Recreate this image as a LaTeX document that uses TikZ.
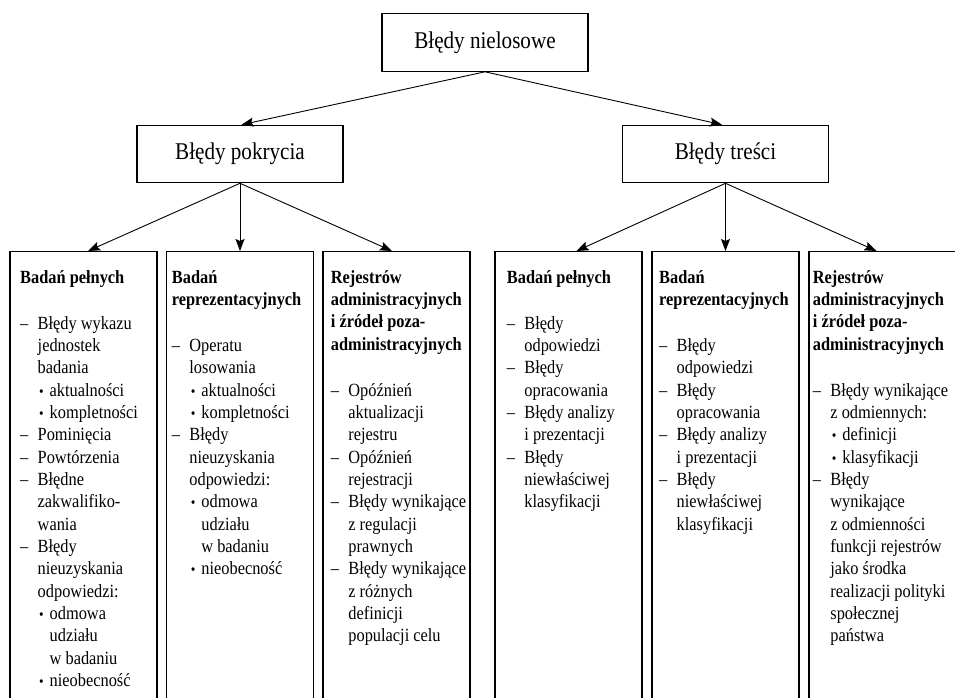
\documentclass[tikz,border=0pt]{standalone}
\usepackage{fontspec}
\setmainfont{Liberation Serif}[FakeStretch=0.88]
\usetikzlibrary{arrows.meta}

% column contents: bold heading, dash items and bullet sub-items
\newcommand\colhead[1]{{\bfseries #1}\par\vspace{23.67pt}}
\newcommand\dashitem[1]{\par\noindent\hangindent=17.5pt\hangafter=1\makebox[17.5pt][l]{–}#1\par}
\newcommand\bulitem[1]{\par\noindent\hangindent=29.5pt\hangafter=1\hspace*{19pt}\makebox[10.5pt][l]{\scalebox{0.8}{•}}#1\par}
\newcommand\coltext[1]{\begin{minipage}[t]{200pt}\fontsize{18.6pt}{22.33pt}\selectfont\parindent=0pt\parskip=0pt #1\end{minipage}}

\begin{document}
\begin{tikzpicture}[x=1pt,y=-1pt,
  box/.style={draw, line width=1.1pt, minimum width=206pt, minimum height=57.5pt, inner sep=0pt,
              font=\fontsize{24pt}{28pt}\selectfont},
  col/.style={draw, line width=1.1pt, minimum width=147pt, minimum height=500pt, anchor=north, inner sep=0pt},
  coltxt/.style={anchor=base west, inner sep=0pt},
  arr/.style={line width=0.9pt, -{Stealth[length=12pt,width=9pt,inset=2pt]}}]
\path[use as bounding box, clip] (0,0) rectangle (955,698);

% top levels
\node[box] (root) at (485,42.5) {Błędy nielosowe};
\node[box] (cov)  at (240,154) {Błędy pokrycia};
\node[box] (cont) at (725.5,154) {Błędy treści};

% column frames (open at the bottom)
\node[col] (c1) at (83.5,251) {};
\node[col] (c2) at (240,251) {};
\node[col] (c3) at (396.5,251) {};
\node[col] (c4) at (568.5,251) {};
\node[col] (c5) at (725.5,251) {};
\node[col] (c6) at (882.5,251) {};

% column texts
\node[coltxt] (t1) at (20,283.3) {\coltext{%
  \colhead{Badań pełnych}
  \dashitem{Błędy wykazu\newline jednostek\newline badania}
  \bulitem{aktualności}
  \bulitem{kompletności}
  \dashitem{Pominięcia}
  \dashitem{Powtórzenia}
  \dashitem{Błędne\newline zakwalifiko-\newline wania}
  \dashitem{Błędy\newline nieuzyskania\newline odpowiedzi:}
  \bulitem{odmowa\newline udziału\newline w badaniu}
  \bulitem{nieobecność}}};

\node[coltxt] (t2) at (171.7,283.3) {\coltext{%
  \colhead{Badań\newline reprezentacyjnych}
  \dashitem{Operatu\newline losowania}
  \bulitem{aktualności}
  \bulitem{kompletności}
  \dashitem{Błędy\newline nieuzyskania\newline odpowiedzi:}
  \bulitem{odmowa\newline udziału\newline w badaniu}
  \bulitem{nieobecność}}};

\node[coltxt] (t3) at (330.7,283.3) {\coltext{%
  \colhead{Rejestrów\newline administracyjnych\newline i źródeł poza-\newline administracyjnych}
  \dashitem{Opóźnień\newline aktualizacji\newline rejestru}
  \dashitem{Opóźnień\newline rejestracji}
  \dashitem{Błędy wynikające\newline z regulacji\newline prawnych}
  \dashitem{Błędy wynikające\newline z różnych\newline definicji\newline populacji celu}}};

\node[coltxt] (t4) at (506.7,283.3) {\coltext{%
  \colhead{Badań pełnych}
  \dashitem{Błędy\newline odpowiedzi}
  \dashitem{Błędy\newline opracowania}
  \dashitem{Błędy analizy\newline i prezentacji}
  \dashitem{Błędy\newline niewłaściwej\newline klasyfikacji}}};

\node[coltxt] (t5) at (659,283.3) {\coltext{%
  \colhead{Badań\newline reprezentacyjnych}
  \dashitem{Błędy\newline odpowiedzi}
  \dashitem{Błędy\newline opracowania}
  \dashitem{Błędy analizy\newline i prezentacji}
  \dashitem{Błędy\newline niewłaściwej\newline klasyfikacji}}};

\node[coltxt] (t6) at (812.7,283.3) {\coltext{%
  \colhead{Rejestrów\newline administracyjnych\newline i źródeł poza-\newline administracyjnych}
  \dashitem{Błędy wynikające\newline z odmiennych:}
  \bulitem{definicji}
  \bulitem{klasyfikacji}
  \dashitem{Błędy\newline wynikające\newline z odmienności\newline funkcji rejestrów\newline jako środka\newline realizacji polityki\newline społecznej\newline państwa}}};

% connectors
\draw[arr] (root.south) -- ([xshift=1.5pt]cov.north);
\draw[arr] (root.south) -- ([xshift=-3.5pt]cont.north);
\draw[arr] (cov.south) -- ([xshift=4.5pt]c1.north);
\draw[arr] (cov.south) -- (c2.north);
\draw[arr] (cov.south) -- ([xshift=-4.5pt]c3.north);
\draw[arr] (cont.south) -- ([xshift=8pt]c4.north);
\draw[arr] (cont.south) -- (c5.north);
\draw[arr] (cont.south) -- ([xshift=-6pt]c6.north);
\end{tikzpicture}
\end{document}
